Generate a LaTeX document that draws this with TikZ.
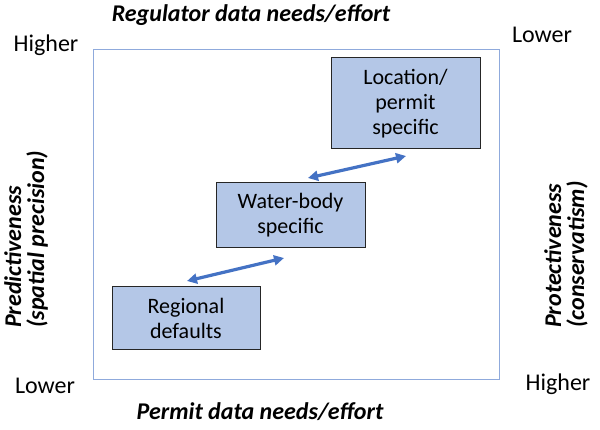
\documentclass[tikz,border=0pt]{standalone}
\usepackage{fontspec}
\setmainfont{Carlito}
\usetikzlibrary{arrows.meta}
\definecolor{boxfill}{HTML}{B4C7E7}
\definecolor{framecol}{HTML}{8FAADC}
\definecolor{arrowcol}{HTML}{4472C4}
\begin{document}
\begin{tikzpicture}[x=1pt,y=-1pt,
  stagebox/.style={draw=black!85,line width=1pt,fill=boxfill,align=center,
    inner sep=0pt,font=\fontsize{22}{25}\selectfont},
  corner/.style={inner sep=0pt,font=\fontsize{24}{28}\selectfont},
  axistitle/.style={inner sep=0pt,font=\fontsize{24}{28}\selectfont\bfseries\itshape},
  sidetitle/.style={inner sep=0pt,align=left,rotate=90,anchor=west,
    font=\fontsize{24}{23}\selectfont\bfseries\itshape},
  link/.style={draw=arrowcol,line width=3.2pt,{Triangle[length=10pt,width=10pt]}-{Triangle[length=10pt,width=10pt]}}]
\useasboundingbox (0,0) rectangle (600,430);
\draw[framecol,line width=1pt] (93,50) rectangle (499,380);
\node[stagebox,minimum width=149pt,minimum height=91pt] (loc) at (405.5,103.5) {Location/\\permit\\specific};
\node[stagebox,minimum width=149pt,minimum height=65pt] (wb) at (290.5,215.5) {Water-body\\specific};
\node[stagebox,minimum width=148pt,minimum height=63pt] (reg) at (186,318.5) {Regional\\defaults};
\coordinate (a1s) at (187,281);
\coordinate (a1e) at (284,258);
\coordinate (a2s) at (308,178);
\coordinate (a2e) at (406,156);
\draw[link] (a1s) -- (a1e);
\draw[link] (a2s) -- (a2e);
\node[axistitle] (top) at (251,15) {Regulator data needs/effort};
\node[axistitle] (bot) at (260,412) {Permit data needs/effort};
\node[corner] (hl) at (46,45) {Higher};
\node[corner] (lr) at (542,35) {Lower};
\node[corner] (ll) at (45,386) {Lower};
\node[corner] (hr) at (558,384) {Higher};
\node[sidetitle] (pred) at (26,328) {Predictiveness\\(spatial precision)};
\node[sidetitle] (prot) at (566,328) {Protectiveness\\(conservatism)};
\end{tikzpicture}
\end{document}
